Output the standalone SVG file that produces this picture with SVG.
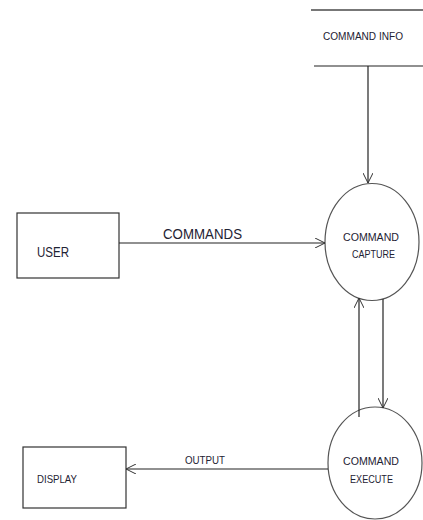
<svg xmlns="http://www.w3.org/2000/svg" width="423" height="520" viewBox="0 0 423 520">
<style>
text{font-family:"Liberation Sans",Arial,sans-serif;fill:#1e2233;}
.box{fill:#fff;stroke:#333;stroke-width:1.2;}
.proc{fill:#fff;stroke:#555;stroke-width:1.2;}
.flow{fill:none;stroke:#222;stroke-width:1.2;}
</style>
<defs>
<marker id="arr" viewBox="0 0 10 10" refX="10" refY="5" markerWidth="10" markerHeight="10" markerUnits="userSpaceOnUse" orient="auto">
<path d="M0,0 L10,5 L0,10" fill="none" stroke="#333" stroke-width="1"/>
</marker>
</defs>
<rect width="423" height="520" fill="#fff"/>
<g id="command-info">
<line x1="311" y1="10" x2="423" y2="10" stroke="#777" stroke-width="2"/>
<line x1="314" y1="66" x2="423" y2="66" stroke="#222" stroke-width="1.2"/>
<text x="323" y="40" font-size="11.5" textLength="80" lengthAdjust="spacingAndGlyphs">COMMAND INFO</text>
</g>
<g id="user">
<rect class="box" x="17" y="213" width="102" height="65"/>
<text x="37" y="257" font-size="15" textLength="32" lengthAdjust="spacingAndGlyphs">USER</text>
</g>
<g id="display">
<rect class="box" x="23" y="447" width="103" height="61"/>
<text x="37" y="483" font-size="11" textLength="40" lengthAdjust="spacingAndGlyphs">DISPLAY</text>
</g>
<g id="command-capture">
<ellipse class="proc" cx="372" cy="242" rx="47" ry="58.5"/>
<text x="343" y="241" font-size="11.5" textLength="56" lengthAdjust="spacingAndGlyphs">COMMAND</text>
<text x="352" y="258" font-size="11.5" textLength="43" lengthAdjust="spacingAndGlyphs">CAPTURE</text>
</g>
<g id="command-execute">
<ellipse class="proc" cx="375" cy="463" rx="47" ry="56"/>
<text x="343" y="465" font-size="11.5" textLength="56" lengthAdjust="spacingAndGlyphs">COMMAND</text>
<text x="350" y="483" font-size="11.5" textLength="43" lengthAdjust="spacingAndGlyphs">EXECUTE</text>
</g>
<g id="connectors">
<line class="flow" x1="368" y1="66" x2="368" y2="183" marker-end="url(#arr)"/>
<line class="flow" x1="119" y1="243" x2="325" y2="243" marker-end="url(#arr)"/>
<text x="163" y="239" font-size="15" textLength="79" lengthAdjust="spacingAndGlyphs">COMMANDS</text>
<line class="flow" x1="359" y1="417" x2="359" y2="298" marker-end="url(#arr)"/>
<line class="flow" x1="383" y1="299" x2="383" y2="408" marker-end="url(#arr)"/>
<line class="flow" x1="328" y1="469" x2="126" y2="469" marker-end="url(#arr)"/>
<text x="185" y="464" font-size="10.5" textLength="40" lengthAdjust="spacingAndGlyphs">OUTPUT</text>
</g>
</svg>
